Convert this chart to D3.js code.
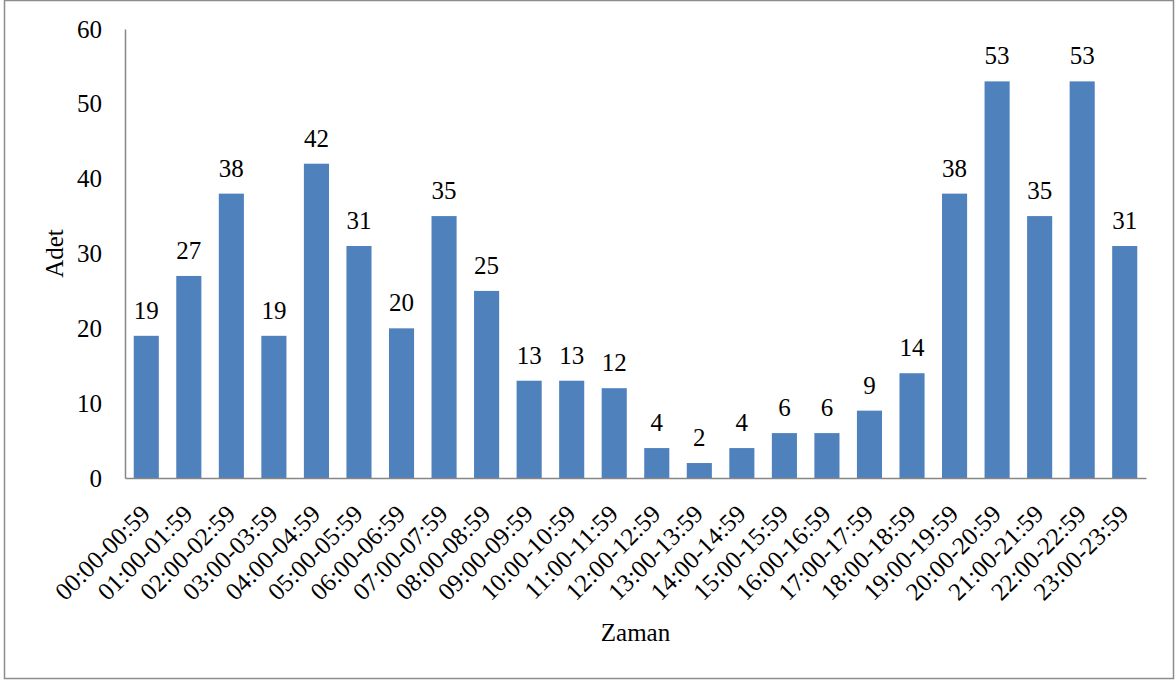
<!DOCTYPE html>
<head>
  <meta charset="utf-8">
  <title>Adet - Zaman</title>
  <script src="https://d3js.org/d3.v7.min.js"></script>
  <style>
    body { margin: 0; background: #fff; }
    text { font-family: "Liberation Serif", "Times New Roman", serif; fill: #000; }
  </style>
</head>
<body>
  <div id="chart"></div>
  <script>
  // hour ranges and counts
  var hours = ["00:00-00:59", "01:00-01:59", "02:00-02:59", "03:00-03:59", "04:00-04:59",
    "05:00-05:59", "06:00-06:59", "07:00-07:59", "08:00-08:59", "09:00-09:59",
    "10:00-10:59", "11:00-11:59", "12:00-12:59", "13:00-13:59", "14:00-14:59",
    "15:00-15:59", "16:00-16:59", "17:00-17:59", "18:00-18:59", "19:00-19:59",
    "20:00-20:59", "21:00-21:59", "22:00-22:59", "23:00-23:59"];
  var counts = [19, 27, 38, 19, 42, 31, 20, 35, 25, 13, 13, 12, 4, 2, 4, 6, 6, 9, 14, 38, 53, 35, 53, 31];
  var yTicks = [0, 10, 20, 30, 40, 50, 60];

  var W = 1176, H = 684;
  var margin = {top: 29, right: 30, bottom: 206, left: 125};
  var width = W - margin.left - margin.right;
  var height = H - margin.top - margin.bottom;
  var fs = "25px";

  var svg = d3.select("#chart").append("svg")
    .attr("width", W).attr("height", H);

  // outer frame
  svg.append("rect")
    .attr("x", 4.5).attr("y", 0.5)
    .attr("width", 1169).attr("height", 678)
    .attr("fill", "none").attr("stroke", "#8c8c8c").attr("stroke-width", 1.5);

  var g = svg.append("g")
    .attr("transform", "translate(" + margin.left + "," + margin.top + ")");

  var x = d3.scaleBand().domain(hours).range([0, width]).paddingInner(0.41).paddingOuter(0.205);
  var y = d3.scaleLinear().domain([0, 60]).range([height, 0]);

  // bars
  g.selectAll(".bar")
    .data(counts)
    .enter().append("rect")
      .attr("x", function(d, i) { return x(hours[i]); })
      .attr("y", function(d) { return y(d); })
      .attr("width", x.bandwidth())
      .attr("height", function(d) { return height - y(d); })
      .attr("fill", "#4f81bd");

  // value labels
  g.selectAll(".val")
    .data(counts)
    .enter().append("text")
      .attr("x", function(d, i) { return x(hours[i]) + x.bandwidth() / 2; })
      .attr("y", function(d) { return y(d) - 17; })
      .attr("text-anchor", "middle")
      .style("font-size", fs)
      .text(function(d) { return d; });

  // y axis
  var yAxis = g.append("g")
    .call(d3.axisLeft(y).tickValues(yTicks).tickSize(0).tickPadding(23));
  yAxis.select(".domain").attr("stroke", "#868686").attr("stroke-width", 1.5);
  yAxis.selectAll("text").style("font-size", fs).style("font-family", "Liberation Serif, serif");

  // x axis
  var xAxis = g.append("g")
    .attr("transform", "translate(0," + height + ")")
    .call(d3.axisBottom(x).tickSize(0).tickPadding(0));
  xAxis.select(".domain").attr("stroke", "#868686").attr("stroke-width", 1.5);
  xAxis.selectAll("text")
    .style("font-size", fs)
    .style("font-family", "Liberation Serif, serif")
    .attr("text-anchor", "end")
    .attr("dy", "0.7em")
    .attr("transform", "translate(-7,25) rotate(-45)");

  // axis titles
  svg.append("text")
    .attr("transform", "translate(63," + (margin.top + height / 2) + ") rotate(-90)")
    .attr("text-anchor", "middle")
    .style("font-size", fs)
    .text("Adet");

  svg.append("text")
    .attr("x", margin.left + width / 2)
    .attr("y", 641)
    .attr("text-anchor", "middle")
    .style("font-size", fs)
    .text("Zaman");
  </script>
</body>
